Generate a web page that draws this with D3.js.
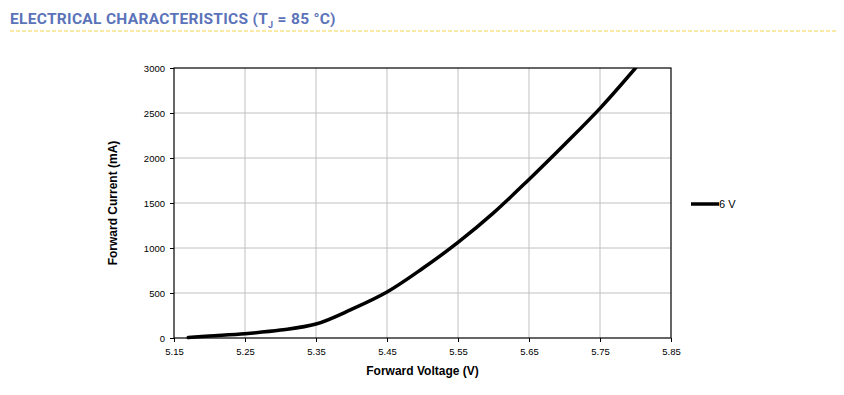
<!DOCTYPE html>
<html>
<head>
<meta charset="utf-8">
<script src="https://cdn.jsdelivr.net/npm/d3@7"></script>
<style>
  body { margin: 0; background: #fff; }
  svg { display: block; }
</style>
</head>
<body>
<div id="chart"></div>
<script>
// forward voltage (V) vs forward current (mA)
const voltage = [5.17, 5.20, 5.25, 5.30, 5.35, 5.40, 5.45, 5.50, 5.55, 5.60, 5.65, 5.70, 5.75, 5.80];
const current = [5, 22, 48, 88, 155, 318, 511, 772, 1062, 1390, 1762, 2150, 2552, 3000];
const xTicks = [5.15, 5.25, 5.35, 5.45, 5.55, 5.65, 5.75, 5.85];
const yTicks = [0, 500, 1000, 1500, 2000, 2500, 3000];
const seriesName = "6 V";

const width = 844, height = 395;
const plot = { left: 174, right: 671, top: 68, bottom: 338 };

const svg = d3.select("#chart").append("svg")
    .attr("width", width)
    .attr("height", height);

// header
const title = svg.append("text")
    .attr("x", 10)
    .attr("y", 24)
    .style("font-family", "Roboto")
    .style("font-weight", "bold")
    .style("font-size", "15.5px")
    .style("fill", "#5b73b9")
    .style("letter-spacing", "0.3px");
title.append("tspan").text("ELECTRICAL CHARACTERISTICS (T");
title.append("tspan").attr("dy", 4).style("font-size", "9px").text("J");
title.append("tspan").attr("dy", -4).text(" = 85 °C)");

svg.append("line")
    .attr("x1", 10).attr("x2", 836)
    .attr("y1", 31).attr("y2", 31)
    .attr("stroke", "#f3d54c")
    .attr("stroke-width", 1.2)
    .attr("stroke-dasharray", "4,2");

const x = d3.scaleLinear().domain([5.15, 5.85]).range([plot.left, plot.right]);
const y = d3.scaleLinear().domain([0, 3000]).range([plot.bottom, plot.top]);

// grid
svg.append("g").selectAll("line")
    .data(xTicks.slice(1, -1))
    .enter().append("line")
    .attr("x1", d => x(d)).attr("x2", d => x(d))
    .attr("y1", plot.top).attr("y2", plot.bottom)
    .attr("stroke", "#c0c0c0");
svg.append("g").selectAll("line")
    .data(yTicks.slice(1, -1))
    .enter().append("line")
    .attr("x1", plot.left).attr("x2", plot.right)
    .attr("y1", d => y(d)).attr("y2", d => y(d))
    .attr("stroke", "#c0c0c0");

// frame
svg.append("rect")
    .attr("x", plot.left).attr("y", plot.top)
    .attr("width", plot.right - plot.left)
    .attr("height", plot.bottom - plot.top)
    .attr("fill", "none")
    .attr("stroke", "#000")
    .attr("stroke-width", 1.2);

const xAxis = svg.append("g")
    .attr("transform", "translate(0," + plot.bottom + ")")
    .call(d3.axisBottom(x).tickValues(xTicks).tickFormat(d3.format(".2f")).tickSize(4).tickPadding(6));
const yAxis = svg.append("g")
    .attr("transform", "translate(" + plot.left + ",0)")
    .call(d3.axisLeft(y).tickValues(yTicks).tickFormat(d3.format("d")).tickSize(4).tickPadding(5));

[xAxis, yAxis].forEach(g => {
    g.select(".domain").remove();
    g.selectAll(".tick line").attr("stroke", "#000");
    g.selectAll("text")
        .style("font-family", "Liberation Sans, Arial, sans-serif")
        .style("font-size", "9.5px")
        .style("fill", "#000");
});

// axis titles
svg.append("text")
    .attr("x", (plot.left + plot.right) / 2)
    .attr("y", 375)
    .attr("text-anchor", "middle")
    .style("font-family", "Liberation Sans, Arial, sans-serif")
    .style("font-weight", "bold")
    .style("font-size", "12px")
    .text("Forward Voltage (V)");
svg.append("text")
    .attr("transform", "translate(117," + (plot.top + plot.bottom) / 2 + ") rotate(-90)")
    .attr("text-anchor", "middle")
    .style("font-family", "Liberation Sans, Arial, sans-serif")
    .style("font-weight", "bold")
    .style("font-size", "12px")
    .text("Forward Current (mA)");

// curve, clipped to the plot area
svg.append("clipPath").attr("id", "plot-clip")
    .append("rect")
    .attr("x", plot.left).attr("y", plot.top)
    .attr("width", plot.right - plot.left)
    .attr("height", plot.bottom - plot.top + 4);

const points = voltage.map((v, i) => [v, current[i]]);
const line = d3.line()
    .x(d => x(d[0]))
    .y(d => y(d[1]))
    .curve(d3.curveCatmullRom.alpha(0.5));
svg.append("path")
    .datum(points)
    .attr("clip-path", "url(#plot-clip)")
    .attr("d", line)
    .attr("fill", "none")
    .attr("stroke", "#000")
    .attr("stroke-width", 3.5)
    .attr("stroke-linecap", "round");

// legend
const legend = svg.append("g").attr("transform", "translate(691,204)");
legend.append("line")
    .attr("x1", 0).attr("x2", 28)
    .attr("stroke", "#000")
    .attr("stroke-width", 3.5);
legend.append("text")
    .attr("x", 28)
    .attr("y", 4)
    .style("font-family", "Liberation Sans, Arial, sans-serif")
    .style("font-size", "11px")
    .text(seriesName);
</script>
</body>
</html>
